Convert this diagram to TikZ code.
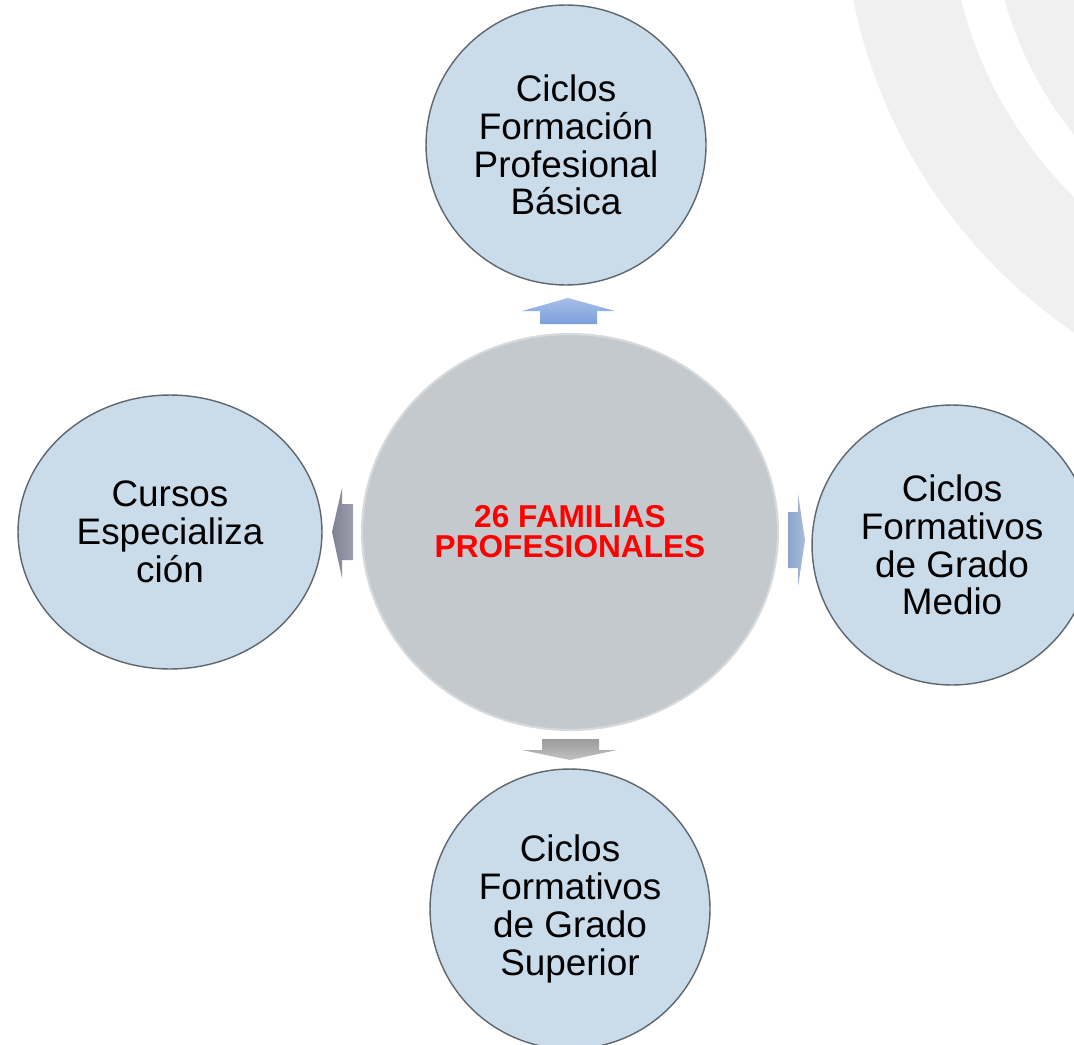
\documentclass[tikz,border=0pt]{standalone}
\usepackage{fontspec}
\setmainfont{Liberation Sans}
\usetikzlibrary{shapes.geometric}

\definecolor{ringgray}{HTML}{F0F0F0}
\definecolor{bubblefill}{HTML}{CADCEA}
\definecolor{bubbleline}{HTML}{5E666E}
\definecolor{hubfill}{HTML}{C4C9CE}
\definecolor{hubline}{HTML}{D6DADD}
\definecolor{upA}{HTML}{A6BEE8}
\definecolor{upB}{HTML}{7C9FDB}
\definecolor{leftA}{HTML}{9D9EAE}
\definecolor{leftB}{HTML}{7F8194}
\definecolor{rightA}{HTML}{8AA5CB}
\definecolor{rightB}{HTML}{A8BCD9}
\definecolor{downA}{HTML}{9B9B9B}
\definecolor{downB}{HTML}{C2C2C2}

\tikzset{
    bubble/.style={ellipse,draw=bubbleline,line width=0.8pt,fill=bubblefill,align=center,
        inner sep=0pt,font=\fontsize{21}{21.5}\selectfont},
    hub/.style={ellipse,draw=hubline,line width=1.2pt,fill=hubfill,align=center,inner sep=0pt,
        text=red,font=\fontsize{18}{17}\selectfont\bfseries},
}

\begin{document}
\begin{tikzpicture}[x=0.02cm,y=-0.02cm]
    \useasboundingbox (0,0) rectangle (1074,1044);
    % rings in the corner
    \begin{scope}
        \clip (0,0) rectangle (1074,1044);
        \fill[ringgray,even odd rule] (1371,-104) circle[radius=10.56cm] (1371,-104) circle[radius=8.46cm];
        \fill[ringgray] (1371,-104) circle[radius=7.62cm];
    \end{scope}
    % the five circles
    \node[hub,minimum width=8.32cm,minimum height=7.92cm] (fam) at (570,532) {26 FAMILIAS\\PROFESIONALES};
    \node[bubble,minimum width=5.6cm,minimum height=5.6cm] (fpb) at (566,145) {Ciclos\\Formación\\Profesional\\Básica};
    \node[bubble,minimum width=6.08cm,minimum height=5.48cm] (ce) at (170,532) {Cursos\\Especializa\\ción};
    \node[bubble,minimum width=5.6cm,minimum height=5.6cm] (gm) at (952,545) {Ciclos\\Formativos\\de Grado\\Medio};
    \node[bubble,minimum width=5.6cm,minimum height=5.6cm] (gs) at (570,909) {Ciclos\\Formativos\\de Grado\\Superior};
    % block arrows
    \shade[bottom color=upB,top color=upA] (540,324) -- (540,311) -- (522,311) -- (568,298) -- (615,311) -- (597,311) -- (597,324) -- cycle;
    \shade[left color=leftB,right color=leftA] (353,504) -- (342,504) -- (342,488) -- (332,532) -- (342,578) -- (342,560) -- (353,560) -- cycle;
    \shade[left color=rightA,right color=rightB] (788,512) -- (798,512) -- (798,494) -- (805,540) -- (798,587) -- (798,568) -- (788,568) -- cycle;
    \shade[top color=downA,bottom color=downB] (542,739) -- (599,739) -- (599,750) -- (617,750) -- (570,760) -- (522,750) -- (542,750) -- cycle;
\end{tikzpicture}
\end{document}
